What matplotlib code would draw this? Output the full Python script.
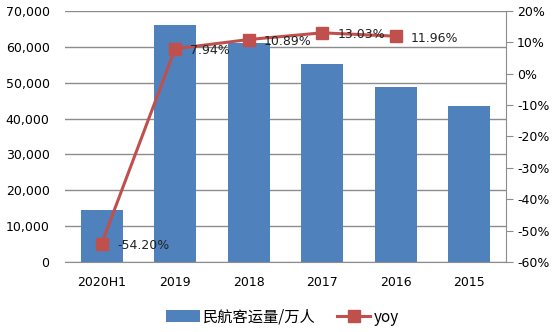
import matplotlib
matplotlib.use("Agg")
import matplotlib.pyplot as plt
from matplotlib.ticker import FuncFormatter, MultipleLocator

plt.rcParams['font.family'] = ['DejaVu Sans', 'Noto Sans CJK SC']

categories = ["2020H1", "2019", "2018", "2017", "2016", "2015"]
passengers = [14500, 65993, 61174, 55156, 48796, 43618]
yoy = [-54.20, 7.94, 10.89, 13.03, 11.96]
yoy_labels = ["-54.20%", "7.94%", "10.89%", "13.03%", "11.96%"]

bar_color = "#4F81BD"
line_color = "#C0504D"
grid_color = "#8C8C8C"

fig = plt.figure(figsize=(5.59, 3.32), dpi=100)
ax = fig.add_axes([0.116, 0.211, 0.789, 0.756])
x = list(range(len(categories)))
bars = ax.bar(x, passengers, width=0.57, color=bar_color, label="民航客运量/万人", zorder=2)
ax.set_xlim(-0.5, len(categories) - 0.5)
ax.set_ylim(0, 70000)
ax.yaxis.set_major_locator(MultipleLocator(10000))
ax.yaxis.set_major_formatter(FuncFormatter(lambda v, p: f"{int(v):,}"))
ax.grid(axis='y', color=grid_color, linewidth=1.0, zorder=0)
ax.set_axisbelow(True)
for s in ['top', 'left', 'right']:
    ax.spines[s].set_visible(False)
ax.spines['bottom'].set_color(grid_color)
ax.tick_params(axis='y', length=0, labelsize=9, pad=11)
ax.tick_params(axis='x', length=0, labelsize=9, pad=10)
ax.set_xticks(x)
ax.set_xticklabels(categories)

ax2 = ax.twinx()
ax2.set_ylim(-60, 20)
ax2.yaxis.set_major_locator(MultipleLocator(10))
ax2.yaxis.set_major_formatter(FuncFormatter(lambda v, p: f"{int(round(v))}%"))
for s in ['top', 'left', 'bottom']:
    ax2.spines[s].set_visible(False)
ax2.spines['right'].set_color(grid_color)
ax2.tick_params(axis='y', length=5, color=grid_color, labelsize=9, pad=3)
line, = ax2.plot(x[:len(yoy)], yoy, color=line_color, linewidth=2.2, marker='s',
                 markersize=8.5, label="yoy", zorder=3)
for xi, yi, lab in zip(x, yoy, yoy_labels):
    ax2.annotate(lab, (xi, yi), xytext=(11, -1.5), textcoords='offset points',
                 ha='left', va='center', fontsize=9, color='#222222')

fig.legend([bars, line], ["民航客运量/万人", "yoy"], loc='center',
           bbox_to_anchor=(0.505, 0.045), ncol=2, frameon=False,
           handlelength=2.2, handleheight=0.8, columnspacing=1.4, handletextpad=0.2,
           prop={'family': ['Noto Sans CJK SC', 'DejaVu Sans'], 'size': 11})

fig.savefig("out.png", dpi=100)
